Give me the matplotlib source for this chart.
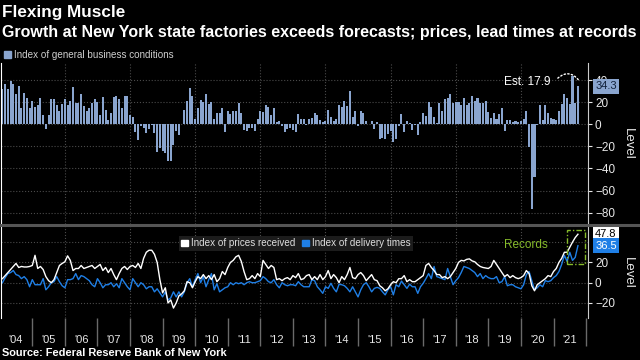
import matplotlib
matplotlib.use('Agg')
import numpy as np
import pandas as pd
import matplotlib.pyplot as plt
from matplotlib.patches import Patch, Rectangle
from matplotlib.lines import Line2D
import matplotlib.transforms as mtransforms

plt.rcParams['font.family'] = ['Liberation Sans', 'DejaVu Sans']

# monthly readings, Jan 2004 .. Sep 2021
business = [
    32, 36, 32, 39, 36, 27, 35, 15, 28.5, 24, 15, 21,
    16, 17, 24, 8, -4.5, 8, 23, 23, 17, 12, 18, 23,
    17, 21, 34, 19, 19, 27, 16.5, 12, 14.5, 19, 23, 20,
    8, 25, 13, 4, 10, 25, 26, 23, 15, 26, 26, 8,
    7, -6.6, -14, -2, -3.6, -7.5, -4.5, -1, -7.5, -25.5, -21.6, -24.6,
    -26, -33.6, -33.6, -19, -5.7, -9.6, 0.5, 13, 21, 33, 25.5, 5,
    15, 21.6, 20, 27, 18, 20, 5, 10, 10, 15, -6.6, 12,
    9.6, 12, 12.3, 19, 10, -5, -5.7, -3, -3.6, -5.7, 5, 12.3,
    11.4, 17.4, 15.6, 8.4, 14.4, 2, 3.3, -2, -6.6, -4, -3, -5,
    -7, 9, 5, 5, -1, 5, 5.4, 10, 8, 4, 2.4, 3,
    13, 7, 3, 4.5, 17.4, 16, 21, 16.5, 30, 6.3, 12, -1.5,
    12.3, 10.5, 3.3, 0, 3, -4, 2, -13.5, -12, -13.5, -9, -6,
    -16.3, -13, -2, 9, -7, 3, 1.5, -5, -1, -9.6, 2, 10,
    7.5, 20, 16, 6.3, 1, 19, 12, 23, 24, 27, 19, 20,
    20, 17.4, 23.4, 17.4, 19.5, 25.5, 21, 24, 19.5, 19.5, 21, 11,
    5.4, 10.5, 5, 9, 14.4, -5.7, 4, 4, 2.4, 3.3, 2.4, 3.3,
    4.5, 12, -21, -77, -48, -0.5, 17.4, 4, 17.4, 10.5, 6, 4.5,
    3.5, 12, 18, 27, 24, 18, 43.5, 19, 34.3,
]

prices = [
    4, 7, 10, 13, 16, 19, 15, 16, 15.5, 15.5, 16, 17,
    27, 14, 16, 13, 6, 2, 0, 3, 10, 17, 19, 20.6,
    26.5, 22, 12, 14, 14, 17, 14, 15, 16, 17, 14, 16,
    18, 12, 15, 10, 14, 8, 3, 9, 14, 16, 13, 16,
    17, 15, 19, 14, 24, 30, 32, 32, 28, 20, 3, -10,
    -5, -20, -17, -25, -20, -13, -11, -8, 1, 0, -5, 1,
    6, 4, 8, 4, 7, 3, 8, 1, 4, 11, 8, 15,
    20, 22, 25.5, 27, 21, 11, 3, 4, 7, 4, 9, 6,
    22, 18, 14, 17, 15, 3, 4, 2, 4, 5, 3, 7,
    5, 9, 3, 4, 7, 8, 3, 6, 3, 8, 3, 6,
    12, 4, 8, 5, 0, 6, 3, 8, 15, 5, 4, 8,
    10, 7, 2, 5, 8, 3, 2, -3, -5, -8, -6, -2,
    1, 0, 4, 4, 7, 1, 3, 1, 1, 3, 5, 7,
    17, 19, 15, 12, 8, 8, 5, 6, 4, 6, 10, 14,
    20, 22, 21.5, 23, 23.5, 21.5, 20.6, 18, 16, 15, 14.5, 14,
    16, 22, 18, 14, 10, 6, 8, 5, 7, 5, 4, 5,
    7, 12, 9, -3, -8, -2, 0, 2, 4, 7, 6, 11,
    14, 20, 24, 30, 30, 35, 40, 44.5, 47.8,
]

delivery = [
    0, 5, 9, 10, 12, 8, 7, 4, 6, 3, -4, 3,
    -2, -2, -2, 4, -7, -4, 0, 1, 6, 1, -3, -5,
    3, 3, 4, 9, 3, 7, 6, 4, 2, -2, -4, 4,
    0, -5, -2, -2, 0, -4, -1, -5, 4, 0, -4, -7,
    4, 0, -4, 0, -2, -6, -4, -4, -9, -6, -10, -14,
    -9, -17, -15, -9, -14, -9, -14, -9, 0, 4, -4, 3,
    9, 0, 6, -4, 3, 9, -7, -1, -9, -7, -5, -4,
    0, -2, 0, -1, 0, -2, 0, 1, 0, 0, 1, 2,
    6, 4, 1, 0, 3, -2, -5, 0, -2, -3, -2, -2,
    -3, 1, -2, -4, -4, -4, 3, 2, -4, -7, -10.5, -4,
    -5.6, -0.6, -5.6, -9, -1.6, -2, -3, -5.6, -9, -4, -9, -14,
    -7, -2, 0, -4, -9, -5.6, -4.6, -5.6, -9, -12, -7, -4,
    -12, -2, -4, 1.6, -2, -5.6, -1.5, -4, -4, -10.5, -4, -0.6,
    4, 9, 4, 16, 6, 5, 4, 3, 14, 6, -2, 2,
    5, 10, 16, 15, 14, 12, 10, 6, 9, 4, 7, 5,
    4, 4, 6, 0, 1, 6, -3, -2, -2, -4, -5, -6,
    -2, 8, 11, 2, -7, -5, -2, -4, 2, 1, 2, 5,
    7, 11, 18, 27, 21, 30, 22, 25, 36.5,
]

years = list(range(2004, 2022))
year_labels = ["'%02d" % (y % 100) for y in years]

dates = pd.date_range('2004-01-31', periods=len(business), freq='ME')
t = np.asarray(dates.year + dates.month / 12.0, dtype=float)

BAR = '#8aa5cf'
BLUE = '#1f7fe6'
GREEN = '#86bb2a'
GRID = '#4a4a4a'
TXT = '#e8e8e8'

fig = plt.figure(figsize=(6.4, 3.6), dpi=100, facecolor='black')
ax1 = fig.add_axes([0.0016, 0.3778, 0.9172, 0.4472])
ax2 = fig.add_axes([0.0016, 0.1167, 0.9172, 0.2555])

xlim = (2004.04, 2022.06)

for ax in (ax1, ax2):
    ax.set_facecolor('black')
    ax.set_xlim(*xlim)
    for s in ('top', 'bottom'):
        ax.spines[s].set_visible(False)
    ax.spines['left'].set_color('white')
    ax.spines['right'].set_color('#cccccc')
    ax.yaxis.tick_right()
    ax.tick_params(axis='y', colors=TXT, labelsize=8.5, length=3, pad=2)
    for y in range(2006, 2022, 2):
        ax.axvline(y, color=GRID, lw=0.8, ls=':', zorder=0)

# top panel: general business conditions
ax1.bar(t, business, width=0.062, color=BAR, zorder=2)
ax1.set_ylim(-90.2, 55.4)
ax1.set_yticks([-80, -60, -40, -20, 0, 20, 40])
for y in [-80, -60, -40, -20, 0, 20, 40]:
    ax1.axhline(y, color=GRID, lw=0.8, ls=':', zorder=0)
ax1.set_xticks([])

ax1.legend(handles=[Patch(color=BAR, label='Index of general business conditions')],
           loc='lower left', bbox_to_anchor=(0.0, 1.0), frameon=False,
           fontsize=7.1, labelcolor='#cfcfcf', handlelength=0.7, handleheight=0.7,
           handletextpad=0.3, borderpad=0.2, borderaxespad=0.15)

ax1.text(2020.92, 38.3, 'Est. 17.9', color='white', fontsize=8.5, ha='right', va='center')
ax1.annotate('', xy=(2021.82, 38.0), xytext=(2021.07, 40.0),
             arrowprops=dict(arrowstyle='-', ls=':', color='white', lw=1,
                             connectionstyle='arc3,rad=-0.6'))

tr1 = mtransforms.blended_transform_factory(ax1.transAxes, ax1.transData)
ax1.text(1.012, business[-1], '%.1f' % business[-1], transform=tr1, color='#10203a',
         fontsize=8, va='center', ha='left', zorder=5,
         bbox=dict(boxstyle='square,pad=0.2', fc=BAR, ec='none'))

# bottom panel: prices received and delivery times
ax2.plot(t, prices, color='white', lw=1.0, zorder=3)
ax2.plot(t, delivery, color=BLUE, lw=1.0, zorder=2)
ax2.set_ylim(-34.8, 55.9)
ax2.set_yticks([-20, 0, 20])
for y in [-20, 0, 20, 40]:
    ax2.axhline(y, color=GRID, lw=0.8, ls=':', zorder=0)

ax2.set_xticks(range(2005, 2023))
ax2.set_xticklabels([])
ax2.tick_params(axis='x', which='major', direction='out', length=20, width=1, color='#6a6a6a')
ax2.set_xticks([y + 0.5 for y in years], minor=True)
ax2.set_xticklabels(year_labels, minor=True)
ax2.tick_params(axis='x', which='minor', length=0, pad=12, labelsize=8, labelcolor=TXT)

ax2.legend(handles=[Patch(color='white', label='Index of prices received'),
                    Patch(color=BLUE, label='Index of delivery times')],
           loc='upper left', bbox_to_anchor=(0.294, 0.95), ncol=2, frameon=True,
           facecolor='#1c1c1c', edgecolor='none', framealpha=1, fancybox=False,
           fontsize=7.1, labelcolor='#e0e0e0', handlelength=0.7, handleheight=0.7,
           handletextpad=0.3, columnspacing=0.6, borderpad=0.3)

ax2.text(2020.16, 37, 'Records', color=GREEN, fontsize=8.5, ha='center', va='center')
ax2.add_patch(Rectangle((2021.42, 18.6), 0.55, 33.4, fill=False, ec=GREEN, lw=1,
                        ls=(0, (4, 1.5, 1, 1.5)), zorder=4))

tr2 = mtransforms.blended_transform_factory(ax2.transAxes, ax2.transData)
ax2.text(1.012, prices[-1], '%.1f' % prices[-1], transform=tr2, color='black',
         fontsize=8, va='center', ha='left', zorder=5,
         bbox=dict(boxstyle='square,pad=0.2', fc='white', ec='none'))
ax2.text(1.012, delivery[-1], '%.1f' % delivery[-1], transform=tr2, color='white',
         fontsize=8, va='center', ha='left', zorder=5,
         bbox=dict(boxstyle='square,pad=0.2', fc=BLUE, ec='none'))

# panel separator
fig.add_artist(Line2D([0, 1], [1 - 225 / 360.0] * 2, color='#555555', lw=2.2,
                      transform=fig.transFigure))

fig.text(628 / 640.0, 1 - 144 / 360.0, 'Level', rotation=270, color=TXT,
         fontsize=9.5, ha='center', va='center')
fig.text(628 / 640.0, 1 - 273 / 360.0, 'Level', rotation=270, color=TXT,
         fontsize=9.5, ha='center', va='center')

fig.text(0.003, 1 - 12 / 360.0, 'Flexing Muscle', color='white', fontsize=12.3,
         fontweight='bold', ha='left', va='center')
fig.text(0.003, 1 - 32 / 360.0,
         'Growth at New York state factories exceeds forecasts; prices, lead times at records',
         color='white', fontsize=11.5, fontweight='bold', ha='left', va='center')
fig.text(0.003, 1 - 353 / 360.0, 'Source: Federal Reserve Bank of New York',
         color='white', fontsize=7.9, fontweight='bold', ha='left', va='center')

fig.savefig('out.png', dpi=100, facecolor='black')
